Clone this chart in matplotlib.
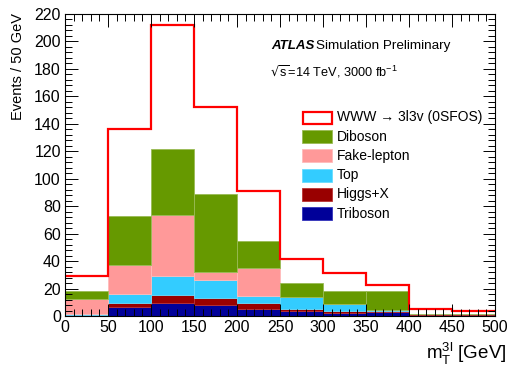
import numpy as np
import matplotlib
matplotlib.use("Agg")
import matplotlib.pyplot as plt
from matplotlib.patches import Rectangle
from matplotlib.ticker import MultipleLocator

plt.rcParams['font.family'] = ['Liberation Sans', 'DejaVu Sans']

# m_T^{3l} binning, 50 GeV per bin
edges = np.arange(0, 550, 50)

# background components, stacked from the bottom up
triboson = [0.7, 6.3, 9.7, 7.8, 4.9, 4.0, 2.5, 2.9, 1.0, 0.5]
higgs = [0.2, 3.0, 5.4, 5.6, 4.6, 1.0, 0.9, 0.4, 0.3, 1.0]
top = [0.6, 6.5, 14.3, 13.1, 5.1, 8.9, 5.4, 1.4, 0.3, 0.0]
fake = [11.1, 21.4, 44.1, 5.4, 20.4, 0.0, 0.0, 0.0, 0.0, 0.0]
diboson = [5.9, 35.6, 47.9, 56.9, 19.7, 9.9, 9.4, 13.5, 0.0, 0.0]

# WWW -> 3l3v (0SFOS) signal
www = [29.0, 136.5, 212.0, 152.3, 91.2, 41.5, 31.0, 22.5, 5.2, 3.5]

names = ["Triboson", "Higgs+X", "Top", "Fake-lepton", "Diboson"]
colors = ["#000099", "#990000", "#33ccff", "#ff9999", "#669900"]
edgecols = ["#3333bb", "#bb3333", "#66ddff", "#ffbbbb", "#99bb55"]

fig = plt.figure(figsize=(5.08, 3.69), dpi=100)
ax = fig.add_axes([65 / 508, 1 - 316 / 369, 430 / 508, 302 / 369])

bottom = np.zeros(len(www))
for vals, c, ec in zip([triboson, higgs, top, fake, diboson], colors, edgecols):
    vals = np.array(vals)
    ax.bar(edges[:-1], vals, width=50, bottom=bottom, align='edge',
           color=c, edgecolor=ec, linewidth=0.6)
    bottom += vals

ax.stairs(www, edges, color='#ff0000', linewidth=1.6, baseline=None)

ax.set_xlim(0, 500)
ax.set_ylim(0, 220)
ax.xaxis.set_major_locator(MultipleLocator(50))
ax.xaxis.set_minor_locator(MultipleLocator(10))
ax.yaxis.set_major_locator(MultipleLocator(20))
ax.yaxis.set_minor_locator(MultipleLocator(4))
ax.tick_params(which='both', direction='in', top=True, right=True, labelsize=11.5)
ax.tick_params(which='major', length=9, width=0.7)
ax.tick_params(which='minor', length=5, width=0.7)
ax.tick_params(axis='x', pad=3)
ax.tick_params(axis='y', pad=3)
for s in ax.spines.values():
    s.set_linewidth(0.8)

fig.text(18 / 508, 1 - 13 / 369, "Events / 50 GeV", rotation=90,
         ha='center', va='top', fontsize=10.5)
fig.text(506 / 508, 1 - 354 / 369, r"m$_\mathregular{T}^\mathregular{3l}$ [GeV]",
         ha='right', va='center', fontsize=13.5)

fig.text(271 / 508, 1 - 46 / 369, "ATLAS", fontsize=9.5, fontweight='bold',
         fontstyle='italic', ha='left', va='center')
fig.text(316 / 508, 1 - 46 / 369, "Simulation Preliminary", fontsize=9.7,
         ha='left', va='center')
fig.text(270 / 508, 1 - 72 / 369, r"$\sqrt{\mathregular{s}}$=14 TeV, 3000 fb$^{\mathregular{-1}}$",
         fontsize=9.2, ha='left', va='center')

# legend drawn by hand in figure pixels
entries = [("WWW \u2192 3l3v (0SFOS)", None)] + list(zip(names[::-1], colors[::-1]))
ecs = [None] + edgecols[::-1]
for i, ((lab, c), ec) in enumerate(zip(entries, ecs)):
    yc = 117.5 + i * 19.2
    if c is None:
        r = Rectangle((303 / 508, 1 - (yc + 6) / 369), 29 / 508, 12 / 369,
                      transform=fig.transFigure, facecolor='white',
                      edgecolor='#ff0000', linewidth=1.6)
    else:
        r = Rectangle((302 / 508, 1 - (yc + 6.5) / 369), 30 / 508, 13 / 369,
                      transform=fig.transFigure, facecolor=c,
                      edgecolor=ec, linewidth=0.6)
    fig.add_artist(r)
    fig.text(337 / 508, 1 - yc / 369, lab, fontsize=10, ha='left', va='center')

fig.savefig("out.png", dpi=100)
